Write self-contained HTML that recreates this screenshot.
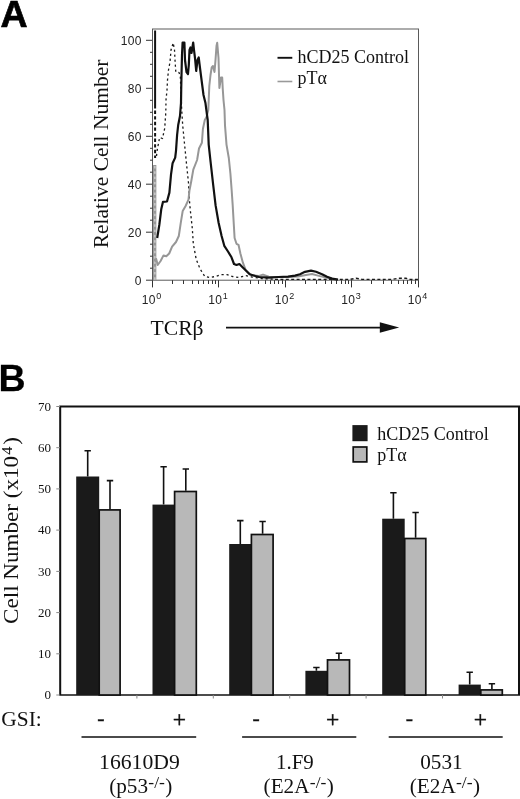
<!DOCTYPE html>
<html lang="en"><head><meta charset="utf-8"><title>Figure</title>
<style>html,body{margin:0;padding:0;background:#fff}body{width:520px;height:799px;overflow:hidden}svg{display:block}</style>
</head><body>
<svg width="520" height="799" viewBox="0 0 520 799">
<rect width="520" height="799" fill="#fff"/>
<text x="0.6" y="27" font-family="Liberation Sans, sans-serif" font-weight="bold" font-size="37.5" stroke="#000" stroke-width="0.7">A</text>
<text x="-1.6" y="391" font-family="Liberation Sans, sans-serif" font-weight="bold" font-size="37.5" stroke="#000" stroke-width="0.3">B</text>
<rect x="152.5" y="29.0" width="266.0" height="251.2" fill="none" stroke="#5a5a5a" stroke-width="1"/>
<path d="M146,280.2H152M150,268.2H152.5M150,256.2H152.5M150,244.2H152.5M146,232.2H152M150,220.2H152.5M150,208.2H152.5M150,196.2H152.5M146,184.2H152M150,172.2H152.5M150,160.2H152.5M150,148.3H152.5M146,136.3H152M150,124.3H152.5M150,112.3H152.5M150,100.3H152.5M146,88.3H152M150,76.3H152.5M150,64.3H152.5M150,52.3H152.5M146,40.3H152M152.5,280.2V287.4M172.5,280.2V284M183.5,280.2V284M192.5,280.2V284M198.5,280.2V284M203.5,280.2V284M208.5,280.2V284M212.5,280.2V284M215.5,280.2V284M218.5,280.2V287.4M238.5,280.2V284M250.5,280.2V284M258.5,280.2V284M265.5,280.2V284M270.5,280.2V284M274.5,280.2V284M278.5,280.2V284M282.5,280.2V284M285.5,280.2V287.4M305.5,280.2V284M316.5,280.2V284M325.5,280.2V284M331.5,280.2V284M336.5,280.2V284M341.5,280.2V284M345.5,280.2V284M348.5,280.2V284M351.5,280.2V287.4M371.5,280.2V284M383.5,280.2V284M391.5,280.2V284M398.5,280.2V284M403.5,280.2V284M407.5,280.2V284M411.5,280.2V284M415.5,280.2V284M418.5,280.2V287.4" stroke="#333" stroke-width="1" fill="none"/>
<g font-family="Liberation Sans, sans-serif" font-size="12" fill="#222" letter-spacing="0.35">
<text x="141.8" y="284.8" text-anchor="end">0</text>
<text x="141.8" y="236.8" text-anchor="end">20</text>
<text x="141.8" y="188.8" text-anchor="end">40</text>
<text x="141.8" y="140.9" text-anchor="end">60</text>
<text x="141.8" y="92.9" text-anchor="end">80</text>
<text x="141.8" y="44.9" text-anchor="end">100</text>
<text x="141.8" y="303.9">10<tspan font-size="9" dx="0.3" dy="-5">0</tspan></text>
<text x="208.3" y="303.9">10<tspan font-size="9" dx="0.3" dy="-5">1</tspan></text>
<text x="274.8" y="303.9">10<tspan font-size="9" dx="0.3" dy="-5">2</tspan></text>
<text x="341.3" y="303.9">10<tspan font-size="9" dx="0.3" dy="-5">3</tspan></text>
<text x="407.8" y="303.9">10<tspan font-size="9" dx="0.3" dy="-5">4</tspan></text>
</g>
<path d="M155.1,30.5V105" stroke="#111" stroke-width="2"/>
<path d="M155.1,105V158" stroke="#111" stroke-width="2" stroke-dasharray="3.4 2.2"/>
<path d="M154.7,165V280.2" stroke="#979797" stroke-width="3.3"/>
<path d="M154.9,166V280.2" stroke="#e4e4e4" stroke-width="1" stroke-dasharray="2.5 2.8"/>
<polyline points="156.5,156.0 157.4,148.6 158.5,143.5 159.6,137.5 162.5,138.5 164.7,128.3 165.8,112.5 166.0,100.0 167.0,90.0 167.5,80.0 168.5,70.0 170.0,62.0 171.0,50.0 173.2,43.0 174.5,50.0 175.0,60.0 175.8,72.0 179.0,72.5 180.3,76.0 181.7,110.0 182.7,125.4 184.6,144.6 186.5,163.8 188.5,183.0 189.4,200.0 190.4,211.0 192.3,228.5 193.3,243.8 196.2,259.2 200.0,268.8 204.8,276.5 209.6,277.5 215.4,276.5 221.0,274.6 227.0,274.6 232.7,276.5 238.5,277.5 246.0,275.6 252.0,277.0 262.0,278.6 275.0,279.2" fill="none" stroke="#1a1a1a" stroke-width="1.3" stroke-dasharray="2.2 2.8"/>
<polyline points="155.8,262.0 156.2,259.0 157.7,265.0 160.6,261.0 163.5,255.4 166.3,256.3 169.2,253.5 172.1,246.7 176.0,242.0 178.8,236.0 180.8,222.7 182.7,211.0 185.6,206.0 188.5,199.6 189.4,190.8 191.3,181.0 193.3,169.6 197.1,160.0 199.0,148.5 201.9,142.7 202.9,129.0 204.8,120.0 206.5,117.0 208.3,110.0 209.3,86.0 210.5,75.0 211.7,67.5 213.0,66.0 214.5,72.0 215.5,60.0 216.5,46.0 217.2,42.8 218.5,58.0 219.0,75.0 219.4,88.0 221.0,77.5 222.2,77.5 222.7,88.0 223.5,100.0 224.5,110.0 225.0,125.4 226.5,144.6 228.8,158.0 230.4,173.5 231.7,190.8 232.7,205.4 233.7,222.7 234.6,238.0 236.5,243.8 238.5,244.8 240.4,253.5 242.9,262.7 245.8,270.4 251.5,275.2 259.0,276.0 263.0,274.6 268.8,276.7 288.0,277.0 298.0,276.6 306.0,275.0 312.0,274.0 318.0,275.6 326.0,277.6 336.0,279.4" fill="none" stroke="#979797" stroke-width="2" stroke-linejoin="round"/>
<polyline points="157.2,238.0 159.3,225.0 161.3,208.9 163.0,201.8 167.0,201.5 169.4,192.6 171.0,174.7 172.6,163.2 175.2,157.6 176.0,150.8 177.1,135.0 178.2,125.0 180.0,116.0 181.0,103.0 181.2,90.0 181.5,75.0 182.0,55.0 182.6,42.5 184.4,42.5 185.0,60.0 186.5,72.0 188.0,74.0 188.8,65.0 189.5,50.0 190.5,47.5 191.5,53.0 192.5,47.0 193.2,42.5 194.0,50.0 195.0,58.0 196.2,71.0 197.5,60.0 198.7,57.5 200.0,68.0 201.5,79.6 203.5,95.0 205.4,102.7 206.9,114.2 207.7,120.0 208.7,144.6 210.6,162.0 213.2,185.0 215.6,205.4 218.6,222.7 221.6,236.0 224.3,245.8 228.0,251.5 231.5,257.3 234.0,264.0 236.5,265.0 239.4,264.0 242.3,267.0 246.2,270.8 249.6,274.2 255.4,276.0 259.0,277.0 268.8,277.7 278.5,277.0 288.0,276.6 295.0,275.6 300.0,274.2 305.0,271.8 311.0,270.6 316.0,271.8 322.0,274.2 327.0,276.8 332.0,278.6 338.0,279.6" fill="none" stroke="#111" stroke-width="2.2" stroke-linejoin="round"/>
<path d="M275,279.4H350L356,278.2L362,279.4H392L398,278.3L406,278.3L410,279.4H418" fill="none" stroke="#1a1a1a" stroke-width="1.4" stroke-dasharray="3 2.4"/>
<path d="M277.5,57.8H292.3" stroke="#111" stroke-width="1.9"/>
<path d="M277.5,81.5H292.3" stroke="#999" stroke-width="1.6"/>
<g font-family="Liberation Serif, serif" font-size="18" fill="#111">
<text x="297.5" y="63">hCD25 Control</text>
<text x="297.5" y="84.4">pTα</text>
</g>
<text transform="translate(108.1,248.3) rotate(-90)" font-family="Liberation Serif, serif" font-size="21.5" fill="#111">Relative Cell Number</text>
<text x="150.6" y="334.9" font-family="Liberation Serif, serif" font-size="21.6" fill="#111">TCRβ</text>
<path d="M226,327.6H382" stroke="#111" stroke-width="1.6"/>
<path d="M379.8,322.2L399.2,327.5L379.8,332.8Z" fill="#111"/>
<path d="M60.2,695.0V406.5H519.0V695.0" fill="none" stroke="#111" stroke-width="2"/>
<path d="M59.2,695.0H520.0" fill="none" stroke="#111" stroke-width="1.6"/>
<path d="M56.3,695.0H60M56.3,653.8H60M56.3,612.6H60M56.3,571.4H60M56.3,530.1H60M56.3,488.9H60M56.3,447.7H60M56.3,406.5H60M136.9,695V698.5M213.3,695V698.5M289.7,695V698.5M366.1,695V698.5M442.5,695V698.5" stroke="#888" stroke-width="1" fill="none"/>
<g font-family="Liberation Serif, serif" font-size="13" fill="#111">
<text x="51" y="699.3" text-anchor="end">0</text>
<text x="51" y="658.1" text-anchor="end">10</text>
<text x="51" y="616.9" text-anchor="end">20</text>
<text x="51" y="575.7" text-anchor="end">30</text>
<text x="51" y="534.4" text-anchor="end">40</text>
<text x="51" y="493.2" text-anchor="end">50</text>
<text x="51" y="452.0" text-anchor="end">60</text>
<text x="51" y="410.8" text-anchor="end">70</text>
</g>
<path d="M87.7,476.5V450.8M84.5,450.8H90.9M110.0,509.2V480.6M106.8,480.6H113.2" stroke="#111" stroke-width="1.6" fill="none"/>
<rect x="76.2" y="476.5" width="23.0" height="218.5" fill="#1a1a1a"/>
<rect x="99.2" y="509.9" width="20.9" height="185.1" fill="#b8b8b8" stroke="#111" stroke-width="1.7"/>
<path d="M163.6,504.6V466.8M160.4,466.8H166.8M185.8,490.8V469M182.6,469H189.0" stroke="#111" stroke-width="1.6" fill="none"/>
<rect x="152.5" y="504.6" width="22.1" height="190.4" fill="#1a1a1a"/>
<rect x="174.6" y="491.5" width="21.7" height="203.5" fill="#b8b8b8" stroke="#111" stroke-width="1.7"/>
<path d="M240.3,544V520.6M237.1,520.6H243.5M262.6,533.8V521.5M259.4,521.5H265.8" stroke="#111" stroke-width="1.6" fill="none"/>
<rect x="229.2" y="544" width="22.2" height="151.0" fill="#1a1a1a"/>
<rect x="251.4" y="534.5" width="21.7" height="160.5" fill="#b8b8b8" stroke="#111" stroke-width="1.7"/>
<path d="M316.4,670.8V667.5M313.2,667.5H319.6M338.9,659.2V653.2M335.7,653.2H342.1" stroke="#111" stroke-width="1.6" fill="none"/>
<rect x="305.4" y="670.8" width="22.1" height="24.2" fill="#1a1a1a"/>
<rect x="327.5" y="659.9000000000001" width="22.0" height="35.1" fill="#b8b8b8" stroke="#111" stroke-width="1.7"/>
<path d="M393.4,518.7V492.8M390.2,492.8H396.6M415.6,537.8V512.5M412.4,512.5H418.8" stroke="#111" stroke-width="1.6" fill="none"/>
<rect x="382.2" y="518.7" width="22.5" height="176.3" fill="#1a1a1a"/>
<rect x="404.7" y="538.5" width="21.1" height="156.5" fill="#b8b8b8" stroke="#111" stroke-width="1.7"/>
<path d="M469.7,684.6V672.2M466.5,672.2H472.9M491.9,689.2V683.7M488.7,683.7H495.1" stroke="#111" stroke-width="1.6" fill="none"/>
<rect x="458.6" y="684.6" width="22.2" height="10.4" fill="#1a1a1a"/>
<rect x="480.8" y="689.9000000000001" width="21.5" height="5.1" fill="#b8b8b8" stroke="#111" stroke-width="1.7"/>
<rect x="352.4" y="425.1" width="15.2" height="16.1" fill="#1a1a1a"/>
<rect x="353.2" y="447" width="13.6" height="14.9" fill="#b8b8b8" stroke="#111" stroke-width="1.7"/>
<g font-family="Liberation Serif, serif" font-size="18" fill="#111">
<text x="377.2" y="440.3">hCD25 Control</text>
<text x="377.2" y="461.3">pTα</text>
</g>
<text transform="translate(18.4,623.9) rotate(-90) scale(1.05,1)" font-family="Liberation Serif, serif" font-size="22" fill="#111">Cell Number (x10<tspan font-size="15.6" dx="1.2" dy="-6.3">4</tspan><tspan dx="1.6" dy="6.3">)</tspan></text>
<g font-family="Liberation Serif, serif" font-size="21.7" fill="#111">
<text x="1.3" y="725.5" font-size="21.4">GSI:</text>
<text x="100.8" y="724.8" text-anchor="middle" stroke="#111" stroke-width="0.4">-</text>
<text x="179.39999999999998" y="726.7" text-anchor="middle" font-size="23.5" stroke="#111" stroke-width="0.4">+</text>
<text x="256" y="724.8" text-anchor="middle" stroke="#111" stroke-width="0.4">-</text>
<text x="332.59999999999997" y="726.7" text-anchor="middle" font-size="23.5" stroke="#111" stroke-width="0.4">+</text>
<text x="409.3" y="724.8" text-anchor="middle" stroke="#111" stroke-width="0.4">-</text>
<text x="480.4" y="726.7" text-anchor="middle" font-size="23.5" stroke="#111" stroke-width="0.4">+</text>
<text x="139.4" y="768.5" text-anchor="middle">16610D9</text>
<text x="109.2" y="792.7" font-size="21.2">(p53<tspan font-size="17.6" dx="0.3" dy="-5">-/-</tspan><tspan dx="0.3" dy="5">)</tspan></text>
<text x="294.9" y="768.5" text-anchor="middle" font-size="20.9">1.F9</text>
<text x="263.6" y="792.7" font-size="21.2">(E2A<tspan font-size="17.6" dx="0.3" dy="-5">-/-</tspan><tspan dx="0.3" dy="5">)</tspan></text>
<text x="441.4" y="768.5" text-anchor="middle" font-size="21.2">0531</text>
<text x="409.8" y="792.7" font-size="21.2">(E2A<tspan font-size="17.6" dx="0.3" dy="-5">-/-</tspan><tspan dx="0.3" dy="5">)</tspan></text>
</g>
<path d="M81.5,737H196.2M242.1,737H356.3M388.7,737H502.7" stroke="#111" stroke-width="1.6"/>
</svg>
</body></html>
